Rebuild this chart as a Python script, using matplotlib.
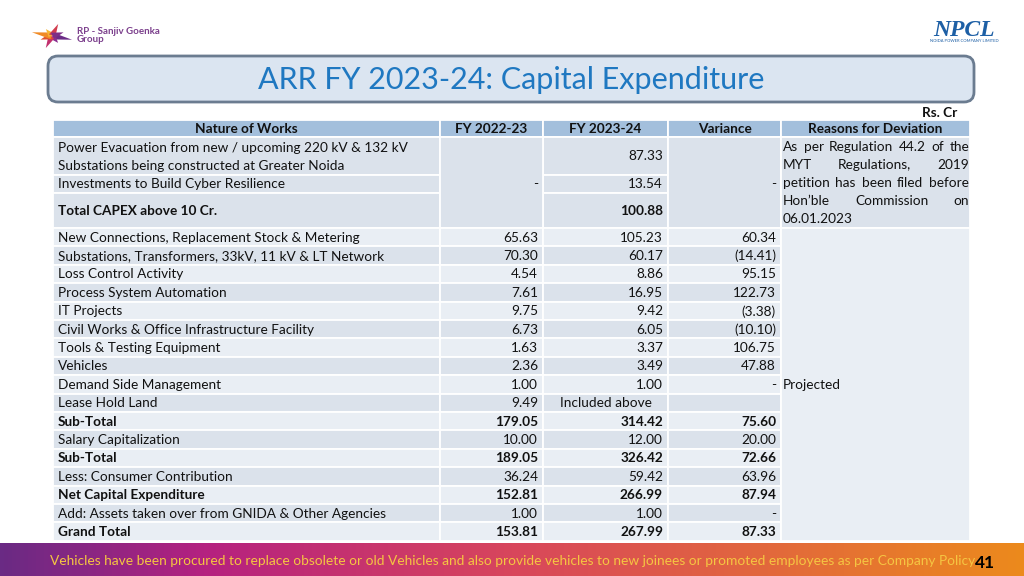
import matplotlib
matplotlib.use("Agg")
import matplotlib.pyplot as plt
from matplotlib.patches import Rectangle, FancyBboxPatch, Polygon
from matplotlib.colors import LinearSegmentedColormap
import numpy as np

plt.rcParams['font.family'] = ['Lato', 'DejaVu Sans']

# ---- data ----
title = "ARR FY 2023-24: Capital Expenditure"
unit_label = "Rs. Cr"
col_headers = ["Nature of Works", "FY 2022-23", "FY 2023-24", "Variance", "Reasons for Deviation"]

capex_items = ["Power Evacuation from new / upcoming 220 kV & 132 kV\nSubstations being constructed at Greater Noida",
               "Investments to Build Cyber Resilience",
               "Total CAPEX above 10 Cr."]
capex_fy23 = "-"
capex_fy24 = ["87.33", "13.54", "100.88"]
capex_var = "-"
capex_reason = ("As per Regulation 44.2 of the MYT Regulations, 2019 petition has been "
                "filed before Hon\u2019ble Commission on 06.01.2023")

items = ["New Connections, Replacement Stock & Metering",
         "Substations, Transformers, 33kV, 11 kV & LT Network",
         "Loss Control Activity",
         "Process System Automation",
         "IT Projects",
         "Civil Works & Office Infrastructure Facility",
         "Tools & Testing Equipment",
         "Vehicles",
         "Demand Side Management",
         "Lease Hold Land",
         "Sub-Total",
         "Salary Capitalization",
         "Sub-Total",
         "Less: Consumer Contribution",
         "Net Capital Expenditure",
         "Add: Assets taken over from GNIDA & Other Agencies",
         "Grand Total"]
fy23 = ["65.63", "70.30", "4.54", "7.61", "9.75", "6.73", "1.63", "2.36", "1.00", "9.49",
        "179.05", "10.00", "189.05", "36.24", "152.81", "1.00", "153.81"]
fy24 = ["105.23", "60.17", "8.86", "16.95", "9.42", "6.05", "3.37", "3.49", "1.00", "Included above",
        "314.42", "12.00", "326.42", "59.42", "266.99", "1.00", "267.99"]
variance = ["60.34", "(14.41)", "95.15", "122.73", "(3.38)", "(10.10)", "106.75", "47.88", "-", "",
            "75.60", "20.00", "72.66", "63.96", "87.94", "-", "87.33"]
bold_items = ["Sub-Total", "Net Capital Expenditure", "Grand Total"]
lower_reason = "Projected"

footnote = ("Vehicles have been procured to replace obsolete or old Vehicles and also provide "
            "vehicles to new joinees or promoted employees as per Company Policy")
page_no = "41"

# ---- style ----
HEAD = "#a3bfdc"
DARK = "#dbe2eb"
LIGHT = "#e9eef4"
TXT = "#111111"
FS = 9.8

fig = plt.figure(figsize=(10.24, 5.76), dpi=100)
ax = fig.add_axes([0, 0, 1, 1])
ax.set_xlim(0, 1024)
ax.set_ylim(576, 0)
ax.axis('off')
renderer = fig.canvas.get_renderer()


def cell(x0, x1, y0, y1, color):
    ax.add_patch(Rectangle((x0, y0), x1 - x0, y1 - y0, facecolor=color,
                           edgecolor='white', linewidth=1.3))


def text_width(s, **kw):
    t = ax.text(0, 0, s, fontsize=FS, **kw)
    w = t.get_window_extent(renderer).width
    t.remove()
    return w


# ---- logos ----
star_cols = ["#6b2c86", "#8a2f8f", "#c2306e", "#e0522e", "#f08a24", "#f6b531", "#d23d4e", "#7d2f86"]
cx, cy = 52, 36
for i, ang in enumerate(np.linspace(0, 2 * np.pi, 9)[:-1] + 0.3):
    L = 21 if i % 2 == 0 else 13
    tip = (cx + L * np.cos(ang), cy + 0.6 * L * np.sin(ang))
    a1 = (cx + 3.5 * np.cos(ang + 1.4), cy + 3.5 * np.sin(ang + 1.4))
    a2 = (cx + 3.5 * np.cos(ang - 1.4), cy + 3.5 * np.sin(ang - 1.4))
    ax.add_patch(Polygon([a1, tip, a2], closed=True, facecolor=star_cols[i], edgecolor='none'))
ax.text(77, 32, "RP - Sanjiv Goenka", fontsize=7, fontweight='bold', color="#7b3f8c", va='center')
ax.text(77, 40, "Group", fontsize=7, fontweight='bold', color="#7b3f8c", va='center')

ax.text(964, 30, "NPCL", fontsize=17, fontweight='bold', style='italic', family='Liberation Serif',
        color="#1d5fa5", ha='center', va='center')
ax.text(964, 41, "NOIDA POWER COMPANY LIMITED", fontsize=3, color="#1d5fa5", ha='center', va='center')

# ---- title box ----
ax.add_patch(FancyBboxPatch((48, 56), 926, 46, boxstyle="round,pad=0,rounding_size=10",
                            facecolor="#dbe5f1", edgecolor="#6b7c90", linewidth=2))
ax.text(511, 80, title, fontsize=22, color="#1f78c1", ha='center', va='center')

# ---- table ----
xs = [53, 440, 543, 668, 781, 970]
ax.text(957, 113, unit_label, fontsize=FS, fontweight='bold', color=TXT, ha='right', va='center')

hy0, hy1 = 120, 137
for j, h in enumerate(col_headers):
    cell(xs[j], xs[j + 1], hy0, hy1, HEAD)
    ax.text((xs[j] + xs[j + 1]) / 2, (hy0 + hy1) / 2 + 0.5, h, fontsize=FS, fontweight='bold',
            color=TXT, ha='center', va='center')

# upper block (CAPEX above 10 Cr.)
top_rows = [(137, 175), (175, 193), (193, 228)]
for i, (y0, y1) in enumerate(top_rows):
    cell(xs[0], xs[1], y0, y1, DARK)
    cell(xs[2], xs[3], y0, y1, DARK)
    ym = (y0 + y1) / 2
    bw = 'bold' if i == 2 else 'normal'
    sub = capex_items[i].split("\n")
    for k, s in enumerate(sub):
        yy = ym + 0.5 + (k - (len(sub) - 1) / 2) * 18
        ax.text(xs[0] + 5, yy, s, fontsize=FS, fontweight=bw, color=TXT, ha='left', va='center')
    ax.text(xs[3] - 5, ym + 0.5, capex_fy24[i], fontsize=FS, fontweight=bw, color=TXT,
            ha='right', va='center')
ty0, ty1 = top_rows[0][0], top_rows[-1][1]
cell(xs[1], xs[2], ty0, ty1, DARK)
cell(xs[3], xs[4], ty0, ty1, DARK)
cell(xs[4], xs[5], ty0, ty1, DARK)
ax.text(xs[2] - 5, 184, capex_fy23, fontsize=FS, color=TXT, ha='right', va='center')
ax.text(xs[4] - 5, 184, capex_var, fontsize=FS, color=TXT, ha='right', va='center')

# justified reason text
words = capex_reason.split()
left, right = xs[4] + 2, xs[5] - 1
avail = right - left
widths = [text_width(w) for w in words]
space_w = text_width("a a") - text_width("aa")
lines, cur, cur_w = [], [], 0
for w, wd in zip(words, widths):
    need = wd if not cur else cur_w + space_w + wd
    if cur and need > avail:
        lines.append(cur)
        cur, cur_w = [(w, wd)], wd
    else:
        cur.append((w, wd))
        cur_w = need
lines.append(cur)
ly = 147
for k, ln in enumerate(lines):
    if k < len(lines) - 1 and len(ln) > 1:
        gap = (avail - sum(wd for _, wd in ln)) / (len(ln) - 1)
    else:
        gap = space_w
    x = left
    for w, wd in ln:
        ax.text(x, ly, w, fontsize=FS, color=TXT, ha='left', va='center')
        x += wd + gap
    ly += 18

# lower block
ry0 = 228
rh = 18.4
for i, name in enumerate(items):
    y0, y1 = ry0 + i * rh, ry0 + (i + 1) * rh
    col = LIGHT if i % 2 == 0 else DARK
    for j in range(4):
        cell(xs[j], xs[j + 1], y0, y1, col)
    ym = (y0 + y1) / 2 + 0.5
    bw = 'bold' if name in bold_items else 'normal'
    ax.text(xs[0] + 5, ym, name, fontsize=FS, fontweight=bw, color=TXT, ha='left', va='center')
    ax.text(xs[2] - 5, ym, fy23[i], fontsize=FS, fontweight=bw, color=TXT, ha='right', va='center')
    if fy24[i] == "Included above":
        ax.text((xs[2] + xs[3]) / 2, ym, fy24[i], fontsize=FS, color=TXT, ha='center', va='center')
    else:
        ax.text(xs[3] - 5, ym, fy24[i], fontsize=FS, fontweight=bw, color=TXT, ha='right', va='center')
    ax.text(xs[4] - 5, ym, variance[i], fontsize=FS, fontweight=bw, color=TXT, ha='right', va='center')
ry1 = ry0 + len(items) * rh
cell(xs[4], xs[5], ry0, ry1, LIGHT)
ax.text(xs[4] + 2, (ry0 + ry1) / 2 + 0.5, lower_reason, fontsize=FS, color=TXT, ha='left', va='center')

# ---- footer ----
grad = LinearSegmentedColormap.from_list("band", [(0, "#6a2a84"), (0.2, "#b52180"),
                                                  (0.5, "#d8465c"), (1.0, "#ec8a1c")])
ax.imshow(np.linspace(0, 1, 512)[None, :], cmap=grad, aspect='auto',
          extent=[0, 1024, 576, 543], zorder=0)
ax.set_xlim(0, 1024)
ax.set_ylim(576, 0)
ax.text(50, 561, footnote, fontsize=9.95, color="#f5c542", ha='left', va='center')
ax.text(985, 563, page_no, fontsize=12.5, fontweight='bold', color="black", ha='center', va='center')

fig.savefig("out.png", dpi=100)
